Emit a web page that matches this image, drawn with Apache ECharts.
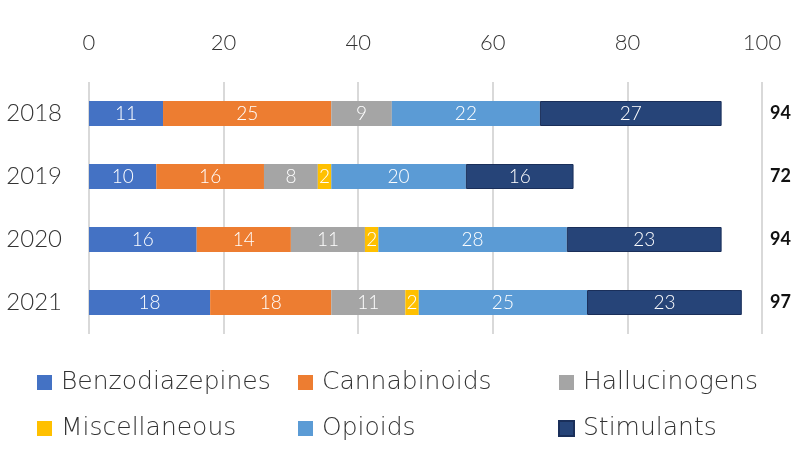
<!DOCTYPE html>
<html>
<head>
<meta charset="utf-8">
<script src="https://cdn.jsdelivr.net/npm/echarts@6/dist/echarts.min.js"></script>
<style>
  html, body { margin: 0; padding: 0; background: #fff; }
  #chart { width: 800px; height: 469px; }
</style>
</head>
<body>
<div id="chart"></div>
<script>
const years = ["2018", "2019", "2020", "2021"];
const benzodiazepines = [11, 10, 16, 18];
const cannabinoids = [25, 16, 14, 18];
const hallucinogens = [9, 8, 11, 11];
const miscellaneous = [0, 2, 2, 2];
const opioids = [22, 20, 28, 25];
const stimulants = [27, 16, 23, 23];
const totals = [94, 72, 94, 97];
const xTicks = [0, 20, 40, 60, 80, 100];

const fontFam = "Lato, 'Noto Sans', sans-serif";
const legendFam = "'DejaVu Sans', sans-serif";

const seriesDefs = [
  { name: "Benzodiazepines", data: benzodiazepines, color: "#4472C4" },
  { name: "Cannabinoids", data: cannabinoids, color: "#ED7D31" },
  { name: "Hallucinogens", data: hallucinogens, color: "#A5A5A5" },
  { name: "Miscellaneous", data: miscellaneous, color: "#FFC000" },
  { name: "Opioids", data: opioids, color: "#5B9BD5" },
  { name: "Stimulants", data: stimulants, color: "#264478", border: "#1a2f5a" }
];

const chart = echarts.init(document.getElementById("chart"));

const legendBase = {
  orient: "vertical",
  top: 370,
  padding: 0,
  itemWidth: 15,
  itemHeight: 15,
  itemGap: 21,
  icon: "rect",
  textStyle: { fontFamily: legendFam, fontSize: 25, fontWeight: 200, color: "#333", lineHeight: 25, padding: [0, 0, 0, 4] }
};

const option = {
  animation: false,
  color: seriesDefs.map(s => s.color),
  grid: { left: 89, right: 38, top: 82, bottom: 135 },
  legend: [
    Object.assign({}, legendBase, { left: 37, data: ["Benzodiazepines", "Miscellaneous"] }),
    Object.assign({}, legendBase, { left: 298, data: ["Cannabinoids", "Opioids"] }),
    Object.assign({}, legendBase, { left: 558, data: ["Hallucinogens", "Stimulants"] })
  ],
  xAxis: {
    type: "value",
    position: "top",
    min: 0,
    max: 100,
    interval: 20,
    axisLine: { show: false },
    axisTick: { show: false },
    axisLabel: {
      margin: 28,
      fontFamily: fontFam,
      fontSize: 22,
      fontWeight: 300,
      color: "#333",
      formatter: v => (xTicks.indexOf(v) >= 0 ? String(v) : "")
    },
    splitLine: { lineStyle: { color: "#d9d9d9", width: 2 } }
  },
  yAxis: [
    {
      type: "category",
      data: years,
      inverse: true,
      axisLine: { show: false },
      axisTick: { show: false },
      axisLabel: { margin: 27, fontFamily: fontFam, fontSize: 24, fontWeight: 300, color: "#333" }
    },
    {
      type: "category",
      data: totals.map(String),
      inverse: true,
      position: "right",
      axisLine: { show: false },
      axisTick: { show: false },
      axisLabel: { margin: 8, fontFamily: fontFam, fontSize: 18, fontWeight: "bold", color: "#111", align: "left" }
    }
  ],
  series: seriesDefs.map(s => ({
    name: s.name,
    type: "bar",
    stack: "total",
    yAxisIndex: 0,
    barWidth: 25,
    data: s.data,
    itemStyle: { color: s.color, borderColor: s.border || s.color, borderWidth: s.border ? 1 : 0 },
    label: {
      show: true,
      position: "inside",
      color: "#fff",
      fontFamily: fontFam,
      fontSize: 19,
      fontWeight: 300,
      formatter: p => (p.value ? String(p.value) : "")
    }
  }))
};

chart.setOption(option);
</script>
</body>
</html>
